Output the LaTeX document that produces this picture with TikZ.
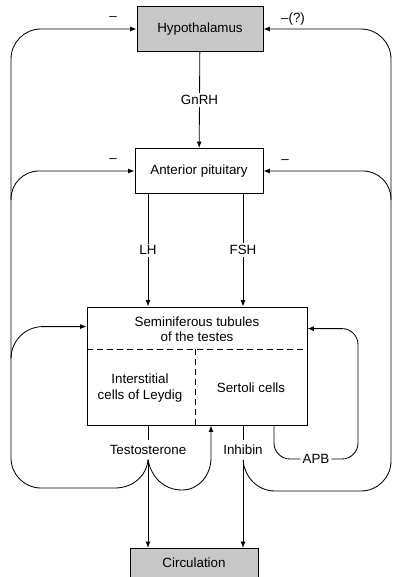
\documentclass[tikz,border=0pt]{standalone}
\usepackage{fontspec}
\setmainfont{Liberation Sans}
\usetikzlibrary{arrows.meta, positioning}

\begin{document}
\begin{tikzpicture}[
    x=0.25mm, y=-0.25mm,
    font=\fontsize{9.5}{10.8}\selectfont,
    organ/.style={rectangle, draw, line width=0.6pt, minimum width=32mm, minimum height=11.25mm},
    shaded/.style={organ, fill=black!22},
    lbl/.style={fill=white, inner sep=1.5pt},
    line/.style={line width=0.6pt},
    arr/.style={-{Latex[length=1.6mm, width=1.2mm]}, line width=0.6pt},
    sect/.style={dashed, dash pattern=on 1.5mm off 1mm, line width=0.6pt}
  ]
    \useasboundingbox (0,0) rectangle (393,577);

    % boxes
    \node[shaded, minimum width=31.5mm] (hyp) at (200,29) {Hypothalamus};
    \node[organ] (ant) at (199,171) {Anterior pituitary};
    \node[organ, minimum width=55mm, minimum height=29.5mm] (semi) at (197,366) {};
    \node[shaded, minimum height=7.25mm] (circ) at (194,563) {Circulation};

    % inside the testes
    \node[align=center] (tub) at (197,329) {Seminiferous tubules\\of the testes};
    \node[align=center] (ley) at (140,388) {Interstitial\\cells of Leydig};
    \node (ser) at (251,388) {Sertoli cells};
    \coordinate (div) at (195,349);
    \draw[sect] (semi.west |- div) -- (semi.east |- div);
    \draw[sect] (div) -- (semi.south -| div);

    % secreted products
    \node (tst) at (148,450) {Testosterone};
    \node (inh) at (243,450) {Inhibin};

    % helper points
    \coordinate (lb) at (115,488);
    \coordinate (lc) at (11,488);
    \coordinate (lp) at (11,200);
    \coordinate (ls) at (11,356);
    \coordinate (sw) at ([yshift=-5mm]semi.north west);
    \coordinate (se) at ([yshift=-5.5mm]semi.north east);
    \coordinate (tb) at (182,490);
    \coordinate (tr) at (211,458);
    \coordinate (rb) at (275,491);
    \coordinate (rc) at (391,491);
    \coordinate (rp) at (391,200);
    \coordinate (ab) at (274,459);
    \coordinate (ar) at (358,459);

    % hormones down the axis
    \draw[arr] (hyp) -- node[lbl] {GnRH} (ant);
    \draw[arr] (ant.south -| tst) -- node[lbl] {LH} (semi.north -| tst);
    \draw[arr] (ant.south -| inh) -- node[lbl] {FSH} (semi.north -| inh);

    % to the circulation
    \draw[line] (semi.south -| tst) -- (tst);
    \draw[line] (semi.south -| inh) -- (inh);
    \draw[arr] (tst) -- (circ.north -| tst);
    \draw[arr] (inh) -- (circ.north -| inh);

    % testosterone feedback
    \draw[arr] (tst.south) to[out=-95,in=0] (lb) [rounded corners=7.5mm] -- (lc) -- (lc |- hyp) -- (hyp.west);
    \draw[arr, rounded corners=7mm] (lp) -- (lp |- ant) -- (ant.west);
    \draw[arr, rounded corners=8mm] (ls) -- (ls |- sw) -- (sw);
    \draw[arr] (tst.south) to[out=-80,in=180] (tb) to[out=0,in=-90] (tr) -- (semi.south -| tr);

    % inhibin feedback
    \draw[arr] (inh.south) to[out=-85,in=180] (rb) [rounded corners=7.5mm] -- (rc) -- (rc |- hyp) -- (hyp.east);
    \draw[arr, rounded corners=7mm] (rp) -- (rp |- ant) -- (ant.east);

    % androgen binding protein
    \draw[arr, rounded corners=4mm] (semi.south -| ab) -- (ab) -- node[lbl] {APB} (ar)
      -- (ar |- se) -- (se);

    % signs
    \node (mh) at (113,19) {–};
    \node (mhr) at (293,19) {–(?)};
    \node (ma) at (113,161) {–};
    \node (mar) at (285,162) {–};
\end{tikzpicture}
\end{document}
